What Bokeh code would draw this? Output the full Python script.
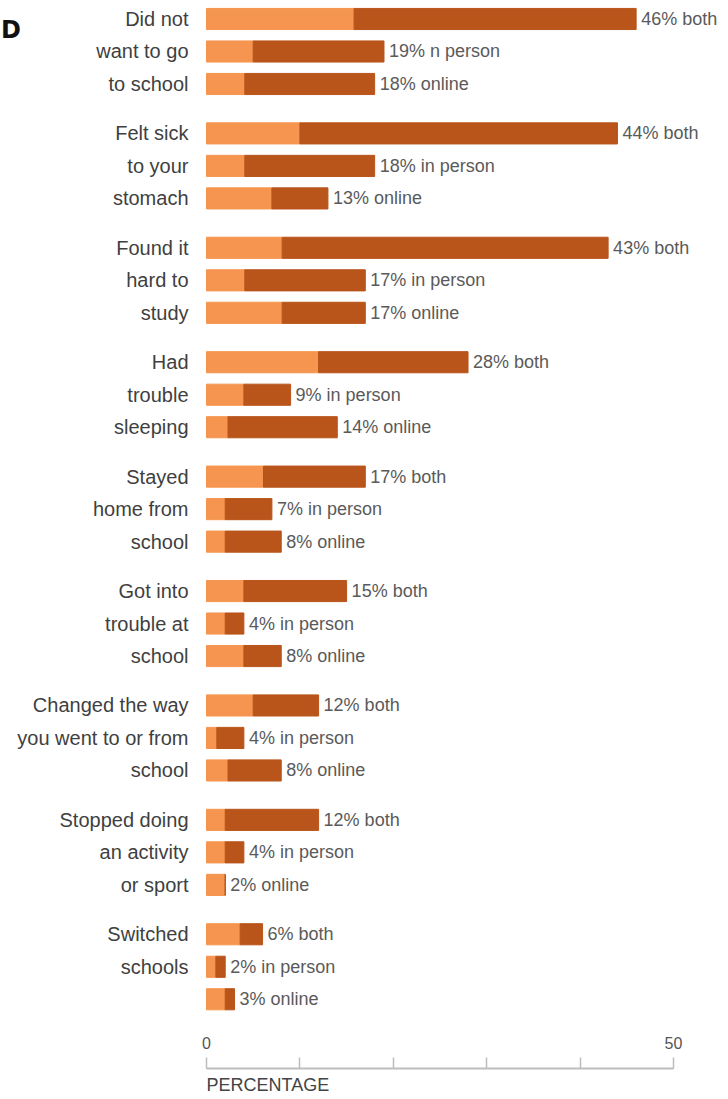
from bokeh.plotting import figure
from bokeh.models import ColumnDataSource, Range1d, FixedTicker, Title
from bokeh.core.properties import value
from bokeh.embed import file_html
from bokeh.resources import INLINE

# ---- data ----
category_lines = [
    ["Did not", "want to go", "to school"],
    ["Felt sick", "to your", "stomach"],
    ["Found it", "hard to", "study"],
    ["Had", "trouble", "sleeping"],
    ["Stayed", "home from", "school"],
    ["Got into", "trouble at", "school"],
    ["Changed the way", "you went to or from", "school"],
    ["Stopped doing", "an activity", "or sport"],
    ["Switched", "schools"],
]
modes = ["both", "in person", "online"]
totals = [
    [46, 19, 18],
    [44, 18, 13],
    [43, 17, 17],
    [28, 9, 14],
    [17, 7, 8],
    [15, 4, 8],
    [12, 4, 8],
    [12, 4, 2],
    [6, 2, 3],
]
light_part = [
    [15.8, 5.0, 4.1],
    [10.0, 4.1, 7.0],
    [8.1, 4.1, 8.1],
    [12.0, 4.0, 2.3],
    [6.1, 2.0, 2.0],
    [4.0, 2.0, 4.0],
    [5.0, 1.1, 2.3],
    [2.0, 2.0, 2.0],
    [3.6, 1.0, 2.0],
]
value_labels = [
    ["46% both", "19% n person", "18% online"],
    ["44% both", "18% in person", "13% online"],
    ["43% both", "17% in person", "17% online"],
    ["28% both", "9% in person", "14% online"],
    ["17% both", "7% in person", "8% online"],
    ["15% both", "4% in person", "8% online"],
    ["12% both", "4% in person", "8% online"],
    ["12% both", "4% in person", "2% online"],
    ["6% both", "2% in person", "3%  online"],
]
axis_ticks = [0, 10, 20, 30, 40, 50]
axis_tick_labels = {0: "0", 10: "", 20: "", 30: "", 40: "", 50: "50"}
axis_title = "PERCENTAGE"
cut_heading = ["D"]

# ---- layout constants ----
GROUP_STEP = 3.52
BAR_H = 0.65
LIGHT = "#F6954F"
DARK = "#B9541A"
FONT = "Liberation Sans"
Y_BOTTOM = 32.29
Y_TOP = -0.569

ys, lights, totals_f, labels = [], [], [], []
for g, grp in enumerate(totals):
    for r in range(len(grp)):
        ys.append(g * GROUP_STEP + r)
        lights.append(light_part[g][r])
        totals_f.append(grp[r])
        labels.append(value_labels[g][r])

src = ColumnDataSource(dict(y=ys, light=lights, total=totals_f, label=labels,
                            zero=[0] * len(ys)))

cy, ctext = [], []
for g, lines in enumerate(category_lines):
    for r, t in enumerate(lines):
        cy.append(g * GROUP_STEP + r)
        ctext.append(t)
csrc = ColumnDataSource(dict(y=cy, text=ctext, x=[-1.93] * len(cy)))

p = figure(width=728, height=1099, output_backend="svg", toolbar_location=None,
           x_range=Range1d(-22.06, 55.89), y_range=Range1d(Y_BOTTOM, Y_TOP),
           y_axis_location=None, min_border_left=0, min_border_right=0,
           min_border_top=0, min_border_bottom=31)
p.outline_line_color = None
p.grid.visible = False
p.background_fill_color = "white"

p.hbar(y="y", left="zero", right="light", height=BAR_H, color=LIGHT, source=src)
p.hbar(y="y", left="light", right="total", height=BAR_H, color=DARK, source=src)

p.text(x="total", y="y", text="label", source=src, x_offset=5,
       text_align="left", text_baseline="middle", text_font=value(FONT),
       text_font_size="18px", text_color="#5a5a5a")

p.text(x="x", y="y", text="text", source=csrc, text_align="right",
       text_baseline="middle", text_font=value(FONT), text_font_size="20px",
       text_color="#3f3f3f")

# heading letter at the left edge (cut off in the source image)
p.text(x=[-22.0], y=[0.33], text=cut_heading, text_align="left",
       text_baseline="middle", text_font=value("DejaVu Sans"),
       text_font_style="bold", text_font_size="24px", text_color="#111111")

ax = p.xaxis[0]
ax.ticker = FixedTicker(ticks=axis_ticks)
ax.major_label_overrides = axis_tick_labels
ax.bounds = (0, 50)
ax.axis_line_color = "#bdbdbd"
ax.axis_line_width = 2
ax.major_tick_line_color = "#bdbdbd"
ax.major_tick_line_width = 1.5
ax.major_tick_in = 11
ax.major_tick_out = 0
ax.minor_tick_line_color = None
ax.major_label_standoff = -32
ax.major_label_text_font = FONT
ax.major_label_text_font_size = "16px"
ax.major_label_text_color = "#555555"

p.add_layout(Title(text=axis_title, align="left", offset=206, standoff=8,
                   text_font=FONT, text_font_size="18px",
                   text_font_style="normal", text_color="#444444"), "below")

open("out.html", "w").write(file_html(p, INLINE))
